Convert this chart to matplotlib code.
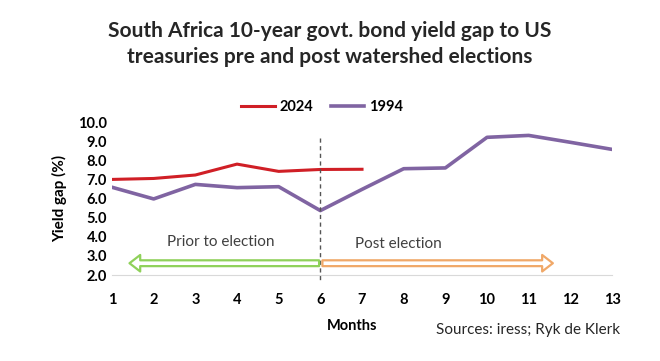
import matplotlib.pyplot as plt

plt.rcParams['font.family'] = ['Lato', 'DejaVu Sans']

months = list(range(1, 14))
gap_2024 = [7.0, 7.05, 7.23, 7.8, 7.42, 7.52, 7.53]
gap_1994 = [6.59, 5.98, 6.74, 6.57, 6.62, 5.37, 6.48, 7.56, 7.6, 9.2, 9.3, 8.94, 8.57]
yticks = [2, 3, 4, 5, 6, 7, 8, 9, 10]
election_month = 6

fig = plt.figure(figsize=(6.6, 3.61), dpi=100)
ax = fig.add_axes([0.1697, 0.238, 0.7576, 0.424])

ax.plot(months[:len(gap_2024)], gap_2024, color='#d01f26', lw=2.2, label='2024')
ax.plot(months, gap_1994, color='#8064a2', lw=2.6, label='1994')

# election marker
ax.plot([election_month, election_month], [9.15, 1.7], color='#555555', lw=1,
        ls=(0, (3, 2.5)), clip_on=False)

# hollow arrows
ax.annotate('', xy=(1.42, 2.62), xytext=(5.97, 2.62),
            arrowprops=dict(arrowstyle='simple,head_width=1.7,head_length=1.1,tail_width=0.6',
                            mutation_scale=7, fc='white', ec='#8fd15a', lw=1.6,
                            shrinkA=0, shrinkB=0))
ax.annotate('', xy=(11.58, 2.62), xytext=(6.05, 2.62),
            arrowprops=dict(arrowstyle='simple,head_width=1.7,head_length=1.1,tail_width=0.6',
                            mutation_scale=7, fc='white', ec='#f0a868', lw=1.6,
                            shrinkA=0, shrinkB=0))
ax.text(3.6, 3.74, 'Prior to election', ha='center', va='center', fontsize=11, color='#404040')
ax.text(7.88, 3.6, 'Post election', ha='center', va='center', fontsize=11, color='#404040')

ax.set_xlim(1, 13)
ax.set_ylim(2, 10)
ax.set_xticks(months)
ax.set_yticks(yticks)
ax.set_yticklabels([f'{v:.1f}' for v in yticks])
for s in ['top', 'right', 'left']:
    ax.spines[s].set_visible(False)
ax.spines['bottom'].set_color('#d9d9d9')
ax.tick_params(length=0, labelsize=10.5, colors='#000000')
ax.tick_params(axis='x', pad=13)
for lbl in ax.get_xticklabels() + ax.get_yticklabels():
    lbl.set_fontweight('bold')

ax.set_ylabel('Yield gap (%)', fontsize=11, fontweight='bold', labelpad=8)
ax.set_xlabel('Months', fontsize=10.5, fontweight='bold')
ax.xaxis.set_label_coords(0.48, -0.29)

fig.text(0.5, 0.878, 'South Africa 10-year govt. bond yield gap to US\ntreasuries pre and post watershed elections',
         ha='center', va='center', fontsize=15, fontweight='bold', color='#262626', linespacing=1.35)
fig.text(0.94, 0.085, 'Sources: iress; Ryk de Klerk', ha='right', va='center', fontsize=11, color='#262626')

ax.legend(loc='center', bbox_to_anchor=(0.42, 1.1), ncol=2, frameon=False,
          prop={'weight': 'bold', 'size': 10.5}, handlelength=2.3, columnspacing=1.2,
          handletextpad=0.3)

fig.savefig('out.png', dpi=100)
